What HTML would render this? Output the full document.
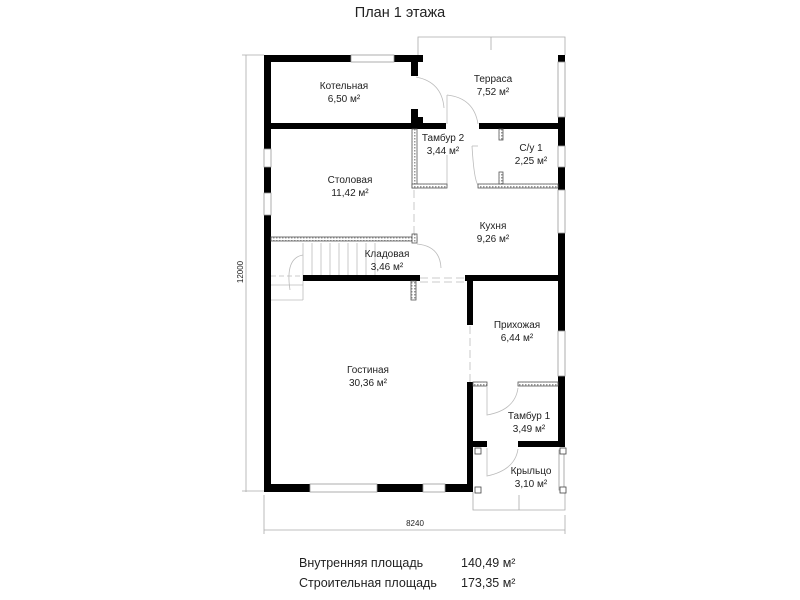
<!DOCTYPE html>
<html><head><meta charset="utf-8"><style>
html,body{margin:0;padding:0;background:#fff;width:800px;height:600px;overflow:hidden}
svg{display:block}
text{font-family:"Liberation Sans",sans-serif;fill:#222}
</style></head><body>
<svg width="800" height="600" viewBox="0 0 800 600" xmlns="http://www.w3.org/2000/svg">
<defs>
<pattern id="h" width="3" height="3" patternUnits="userSpaceOnUse"><rect width="3" height="3" fill="#fff"/><rect width="1.5" height="1.5" fill="#999"/></pattern>
</defs>
<text x="400" y="17" font-size="14.5" text-anchor="middle">План 1 этажа</text>

<g stroke="#aaa" stroke-width="0.8" fill="none">
<line x1="246" y1="55" x2="246" y2="492"/>
<line x1="242" y1="55" x2="264" y2="55"/>
<line x1="242" y1="491" x2="264" y2="491"/>
<line x1="264" y1="530" x2="565" y2="530"/>
<line x1="264" y1="495" x2="264" y2="534"/>
<line x1="565" y1="515" x2="565" y2="534"/>
<polyline points="418,55 418,37 565,37 565,55"/>
<line x1="491" y1="37" x2="491" y2="50"/>
<polyline points="473,492 473,510 565,510 565,492"/>
<line x1="519" y1="495" x2="519" y2="510"/>
</g>
<text x="243" y="272" font-size="8" text-anchor="middle" transform="rotate(-90 243 272)">12000</text>
<text x="415" y="526" font-size="8" text-anchor="middle">8240</text>

<g stroke="#bbb" stroke-width="0.8" fill="none">
<line x1="303" y1="243" x2="303" y2="300"/>
<line x1="312" y1="243" x2="312" y2="275"/>
<line x1="321" y1="243" x2="321" y2="275"/>
<line x1="330" y1="243" x2="330" y2="275"/>
<line x1="339" y1="243" x2="339" y2="275"/>
<line x1="348" y1="243" x2="348" y2="275"/>
<line x1="357" y1="243" x2="357" y2="275"/>
<line x1="366" y1="243" x2="366" y2="275"/>
<line x1="375" y1="243" x2="375" y2="275"/>
<line x1="271" y1="285" x2="303" y2="285"/>
<line x1="271" y1="300" x2="303" y2="300"/>
<path d="M303,255 Q285,258 290,290"/>
<line x1="271" y1="276" x2="303" y2="276" stroke-dasharray="5,3"/>
<line x1="414" y1="190" x2="414" y2="234" stroke-dasharray="8,4"/>
<line x1="420" y1="278" x2="465" y2="278" stroke-dasharray="8,4"/>
<line x1="420" y1="282" x2="465" y2="282" stroke-dasharray="8,4"/>
<line x1="470" y1="326" x2="470" y2="382" stroke-dasharray="8,4"/>
<path d="M416,77 Q442,82 444,108"/>
<path d="M447,95 Q474,98 478,124"/>
<line x1="447" y1="95" x2="447" y2="124"/>
<path d="M472,146 Q474,180 478,185"/>
<line x1="447" y1="155" x2="447" y2="186"/>
<path d="M472,146 L478,146"/>
<path d="M417,244 Q440,246 441,268"/>
<path d="M487,387 L487,415 Q515,410 518,388"/>
<path d="M487,448 L487,476 Q515,470 518,449"/>
</g>

<g fill="#000">
<rect x="264" y="55" width="7" height="437"/>
<rect x="264" y="55" width="87" height="7"/>
<rect x="394" y="55" width="29" height="7"/>
<rect x="411" y="55" width="7" height="21"/>
<rect x="411" y="109" width="7" height="20"/>
<rect x="411" y="117" width="12" height="6"/>
<rect x="264" y="123" width="182" height="6"/>
<rect x="479" y="123" width="86" height="6"/>
<rect x="558" y="55" width="7" height="7"/>
<rect x="558" y="117" width="7" height="29"/>
<rect x="558" y="167" width="7" height="23"/>
<rect x="558" y="233" width="7" height="98"/>
<rect x="558" y="376" width="7" height="71"/>
<rect x="303" y="275" width="117" height="6"/>
<rect x="465" y="275" width="100" height="6"/>
<rect x="467" y="275" width="6" height="50"/>
<rect x="467" y="382" width="6" height="110"/>
<rect x="264" y="484" width="46" height="8"/>
<rect x="377" y="484" width="46" height="8"/>
<rect x="445" y="484" width="28" height="8"/>
<rect x="473" y="441" width="14" height="6"/>
<rect x="518" y="441" width="47" height="6"/>
</g>

<g fill="#fff" stroke="#999" stroke-width="0.8">
<rect x="351" y="55" width="43" height="7"/>
<rect x="264" y="149" width="7" height="18"/>
<rect x="264" y="193" width="7" height="22"/>
<rect x="558" y="62" width="7" height="55"/>
<rect x="558" y="146" width="7" height="21"/>
<rect x="558" y="190" width="7" height="43"/>
<rect x="558" y="331" width="7" height="45"/>
<rect x="310" y="484" width="67" height="8"/>
<rect x="423" y="484" width="22" height="8"/>
<rect x="559" y="450" width="5" height="40"/>
</g>

<g fill="url(#h)" stroke="#555" stroke-width="0.8">
<rect x="412" y="129" width="5" height="59"/>
<rect x="412" y="184" width="35" height="4"/>
<rect x="478" y="184" width="80" height="4"/>
<rect x="499" y="129" width="4" height="11"/>
<rect x="499" y="172" width="4" height="12"/>
<rect x="271" y="237" width="146" height="4"/>
<rect x="412" y="234" width="5" height="9"/>
<rect x="411" y="281" width="5" height="19"/>
<rect x="473" y="382" width="14" height="4"/>
<rect x="518" y="382" width="40" height="4"/>
</g>
<g fill="#fff" stroke="#444" stroke-width="0.8">
<rect x="475" y="448" width="6" height="6"/>
<rect x="560" y="448" width="6" height="6"/>
<rect x="475" y="487" width="6" height="6"/>
<rect x="560" y="487" width="6" height="6"/>
</g>

<g font-size="10" text-anchor="middle">
<text x="344" y="89">Котельная</text><text x="344" y="102">6,50 м²</text>
<text x="493" y="82">Терраса</text><text x="493" y="95">7,52 м²</text>
<text x="443" y="141">Тамбур 2</text><text x="443" y="154">3,44 м²</text>
<text x="531" y="151">С/у 1</text><text x="531" y="164">2,25 м²</text>
<text x="350" y="183">Столовая</text><text x="350" y="196">11,42 м²</text>
<text x="493" y="229">Кухня</text><text x="493" y="242">9,26 м²</text>
<text x="387" y="257">Кладовая</text><text x="387" y="270">3,46 м²</text>
<text x="517" y="328">Прихожая</text><text x="517" y="341">6,44 м²</text>
<text x="368" y="373">Гостиная</text><text x="368" y="386">30,36 м²</text>
<text x="529" y="419">Тамбур 1</text><text x="529" y="432">3,49 м²</text>
<text x="531" y="474">Крыльцо</text><text x="531" y="487">3,10 м²</text>
</g>

<g font-size="12.5">
<text x="299" y="567">Внутренняя площадь</text>
<text x="461" y="567">140,49 м²</text>
<text x="299" y="587">Строительная площадь</text>
<text x="461" y="587">173,35 м²</text>
</g>
</svg>
</body></html>
